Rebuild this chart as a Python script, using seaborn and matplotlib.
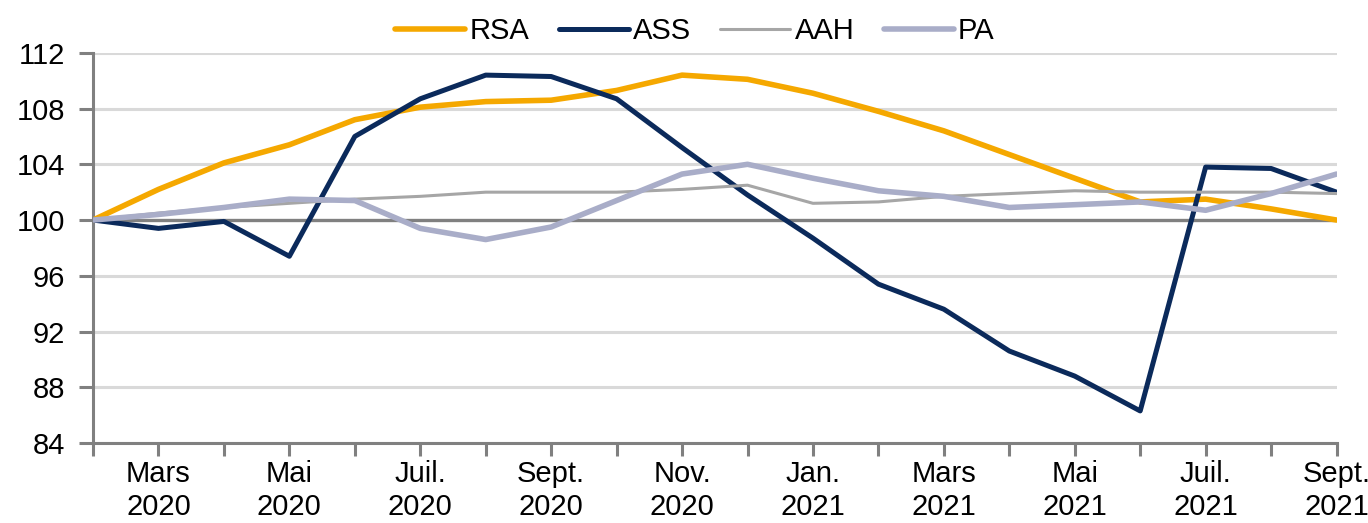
import pandas as pd
import matplotlib
matplotlib.use("Agg")
import matplotlib.pyplot as plt
import seaborn as sns

# -------------------------------
# Data (index base 100 = fevrier 2020)
# -------------------------------
months = ["Fev. 2020", "Mars 2020", "Avr. 2020", "Mai 2020", "Juin 2020", "Juil. 2020",
          "Aout 2020", "Sept. 2020", "Oct. 2020", "Nov. 2020", "Dec. 2020", "Jan. 2021",
          "Fev. 2021", "Mars 2021", "Avr. 2021", "Mai 2021", "Juin 2021", "Juil. 2021",
          "Aout 2021", "Sept. 2021"]

rsa = [100.0, 102.2, 104.1, 105.4, 107.2, 108.1, 108.5, 108.6, 109.3, 110.4,
       110.1, 109.1, 107.8, 106.4, 104.7, 103.0, 101.3, 101.5, 100.8, 100.0]
ass = [100.0, 99.4, 99.9, 97.4, 106.0, 108.7, 110.4, 110.3, 108.7, 105.2,
       101.8, 98.7, 95.4, 93.6, 90.6, 88.8, 86.3, 103.8, 103.7, 102.0]
aah = [100.0, 100.5, 100.9, 101.2, 101.5, 101.7, 102.0, 102.0, 102.0, 102.2,
       102.5, 101.2, 101.3, 101.7, 101.9, 102.1, 102.0, 102.0, 102.0, 101.9]
pa = [100.0, 100.4, 100.9, 101.5, 101.4, 99.4, 98.6, 99.5, 101.4, 103.3,
      104.0, 103.0, 102.1, 101.7, 100.9, 101.1, 101.3, 100.7, 101.9, 103.3]

tick_labels = ["", "Mars\n2020", "", "Mai\n2020", "", "Juil.\n2020", "", "Sept.\n2020",
               "", "Nov.\n2020", "", "Jan.\n2021", "", "Mars\n2021", "", "Mai\n2021",
               "", "Juil.\n2021", "", "Sept.\n2021"]

data = pd.DataFrame({"mois": range(len(months)), "RSA": rsa, "ASS": ass, "AAH": aah, "PA": pa})

colors = {"RSA": "#F5A800", "ASS": "#0B2A5B", "AAH": "#A6A6A6", "PA": "#A9ADC8"}
widths = {"RSA": 4.0, "ASS": 3.6, "AAH": 2.2, "PA": 4.0}

# -------------------------------
# Plot
# -------------------------------
sns.set_style("white")
plt.rcParams["font.family"] = ["Liberation Sans Narrow", "Liberation Sans", "DejaVu Sans"]
plt.rcParams["text.color"] = "black"

fig, ax = plt.subplots(figsize=(13.68, 5.23), dpi=100)
fig.subplots_adjust(left=0.068, right=0.977, top=0.899, bottom=0.153)

for y in [84, 88, 92, 96, 104, 108, 112]:
    ax.axhline(y, color="#D9D9D9", lw=2.2, zorder=0)
ax.axhline(100, color="#808080", lw=2.4, zorder=1)

for name in ["RSA", "ASS", "AAH", "PA"]:
    sns.lineplot(data=data, x="mois", y=name, ax=ax, color=colors[name],
                 lw=widths[name], label=name, zorder=3)

ax.set_xlim(0, len(months) - 1)
ax.set_ylim(84, 112)
ax.set_yticks([84, 88, 92, 96, 100, 104, 108, 112])
ax.set_xticks(range(len(months)))
ax.set_xticklabels(tick_labels)
ax.set_xlabel("")
ax.set_ylabel("")

for side in ["top", "right"]:
    ax.spines[side].set_visible(False)
for side in ["left", "bottom"]:
    ax.spines[side].set_color("#808080")
    ax.spines[side].set_linewidth(2.2)

ax.tick_params(axis="x", direction="out", length=9.5, width=2.2, color="#808080",
               labelsize=21, pad=3, bottom=True, labelcolor="black")
ax.tick_params(axis="y", direction="out", length=10, width=2.2, color="#808080",
               labelsize=21, pad=10, left=True, labelcolor="black")

leg = ax.legend(loc="center", bbox_to_anchor=(0.484, 1.055), ncol=4, frameon=False,
                fontsize=21, handlelength=2.4, handletextpad=0.15, columnspacing=1.0)
for t in leg.get_texts():
    t.set_color("black")

plt.savefig("out.png", dpi=100)
